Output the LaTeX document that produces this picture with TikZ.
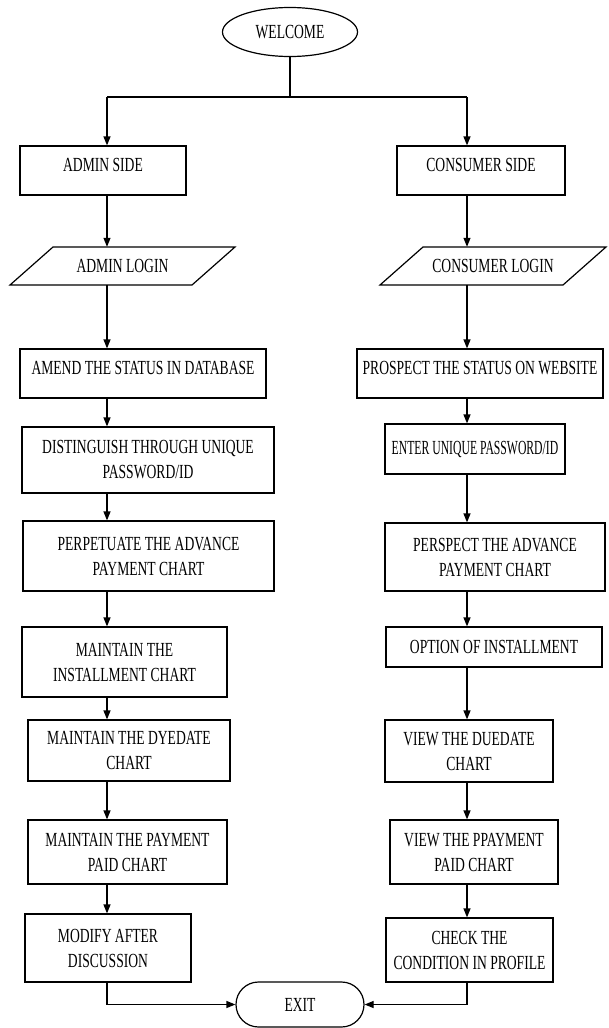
\documentclass[tikz,border=0pt]{standalone}
\usepackage{fontspec}
\usepackage{graphicx}
\setmainfont{Liberation Serif}[FakeStretch=0.68]
\usetikzlibrary{shapes.geometric,shapes.misc,arrows.meta}
\begin{document}
\begin{tikzpicture}[x=1pt,y=-1pt,
  every node/.style={font=\fontsize{20}{25}\selectfont, inner sep=0pt},
  box/.style={draw, line width=1.2pt, align=center},
  hi/.style={text height=13.5pt, text depth=11.9pt},
  arr/.style={line width=1.2pt, -{Triangle[length=9pt,width=7pt]}},
  ln/.style={line width=1.2pt}]
\useasboundingbox (0,0) rectangle (608,1028);

% start
\node[box, ellipse, minimum width=135pt, minimum height=49pt] (welcome) at (290,32) {WELCOME};
\coordinate (split) at (290,97);
\coordinate (L) at (107,97);
\coordinate (R) at (467,97);

% left column
\node[box,hi,minimum width=166pt,minimum height=49pt] (admin) at (103,170.5) {ADMIN SIDE};
\draw[ln] (10,285) -- (53,247) -- (235,247) -- (192,285) -- cycle;
\node[minimum height=38pt] (alogin) at (122.5,266) {ADMIN LOGIN};
\node[box,hi,minimum width=246pt,minimum height=49pt] (amend) at (143,373.5) {AMEND THE STATUS IN DATABASE};
\node[box,minimum width=252pt,minimum height=66pt] (dist) at (148,460) {DISTINGUISH THROUGH UNIQUE\\PASSWORD/ID};
\node[box,minimum width=251pt,minimum height=70pt] (perp) at (148.5,556) {PERPETUATE THE ADVANCE\\PAYMENT CHART};
\node[box,minimum width=205pt,minimum height=70pt] (inst) at (124.5,662) {MAINTAIN THE\\INSTALLMENT CHART};
\node[box,minimum width=202pt,minimum height=61pt] (dye) at (129,750.5) {MAINTAIN THE DYEDATE\\CHART};
\node[box,minimum width=199pt,minimum height=64pt] (paid) at (127.5,852) {MAINTAIN THE PAYMENT\\PAID CHART};
\node[box,minimum width=166pt,minimum height=68pt] (modify) at (108,948) {MODIFY AFTER\\DISCUSSION};

% right column
\node[box,hi,minimum width=168pt,minimum height=49pt] (consumer) at (481,170.5) {CONSUMER SIDE};
\draw[ln] (380,285) -- (423,247) -- (606,247) -- (563,285) -- cycle;
\node[minimum height=38pt] (clogin) at (493,266) {CONSUMER LOGIN};
\node[box,hi,minimum width=246pt,minimum height=49pt] (prospect) at (480,373.5) {PROSPECT THE STATUS ON WEBSITE};
\node[box,minimum width=180pt,minimum height=50pt] (enter) at (475,449) {\scalebox{0.86}[1]{ENTER UNIQUE PASSWORD/ID}};
\node[box,minimum width=220pt,minimum height=68pt] (persp) at (495,557) {PERSPECT THE ADVANCE\\PAYMENT CHART};
\node[box,minimum width=216pt,minimum height=40pt] (option) at (494,647) {OPTION OF INSTALLMENT};
\node[box,minimum width=168pt,minimum height=62pt] (due) at (469,751) {VIEW THE DUEDATE\\CHART};
\node[box,minimum width=168pt,minimum height=64pt] (ppay) at (474,852) {VIEW THE PPAYMENT\\PAID CHART};
\node[box,minimum width=167pt,minimum height=64pt] (check) at (469.5,950) {CHECK THE\\CONDITION IN PROFILE};

% end
\node[box, rounded rectangle, minimum width=128pt, minimum height=45pt] (exit) at (300,1004.5) {EXIT};

% connectors
\draw[ln] (welcome.south) -- (split);
\draw[ln] (L) -- (R);
\draw[arr] (L) -- (L |- admin.north);
\draw[arr] (R) -- (R |- consumer.north);

\draw[arr] (L |- admin.south) -- (L |- alogin.north);
\draw[arr] (L |- alogin.south) -- (L |- amend.north);
\draw[arr] (L |- amend.south) -- (L |- dist.north);
\draw[arr] (L |- dist.south) -- (L |- perp.north);
\draw[arr] (L |- perp.south) -- (L |- inst.north);
\draw[arr] (L |- inst.south) -- (L |- dye.north);
\draw[arr] (L |- dye.south) -- (L |- paid.north);
\draw[arr] (L |- paid.south) -- (L |- modify.north);
\draw[arr] (L |- modify.south) |- (exit.west);

\draw[arr] (R |- consumer.south) -- (R |- clogin.north);
\draw[arr] (R |- clogin.south) -- (R |- prospect.north);
\draw[arr] (R |- prospect.south) -- (R |- enter.north);
\draw[arr] (R |- enter.south) -- (R |- persp.north);
\draw[arr] (R |- persp.south) -- (R |- option.north);
\draw[arr] (R |- option.south) -- (R |- due.north);
\draw[arr] (R |- due.south) -- (R |- ppay.north);
\draw[arr] (R |- ppay.south) -- (R |- check.north);
\draw[arr] (R |- check.south) |- (exit.east);
\end{tikzpicture}
\end{document}
